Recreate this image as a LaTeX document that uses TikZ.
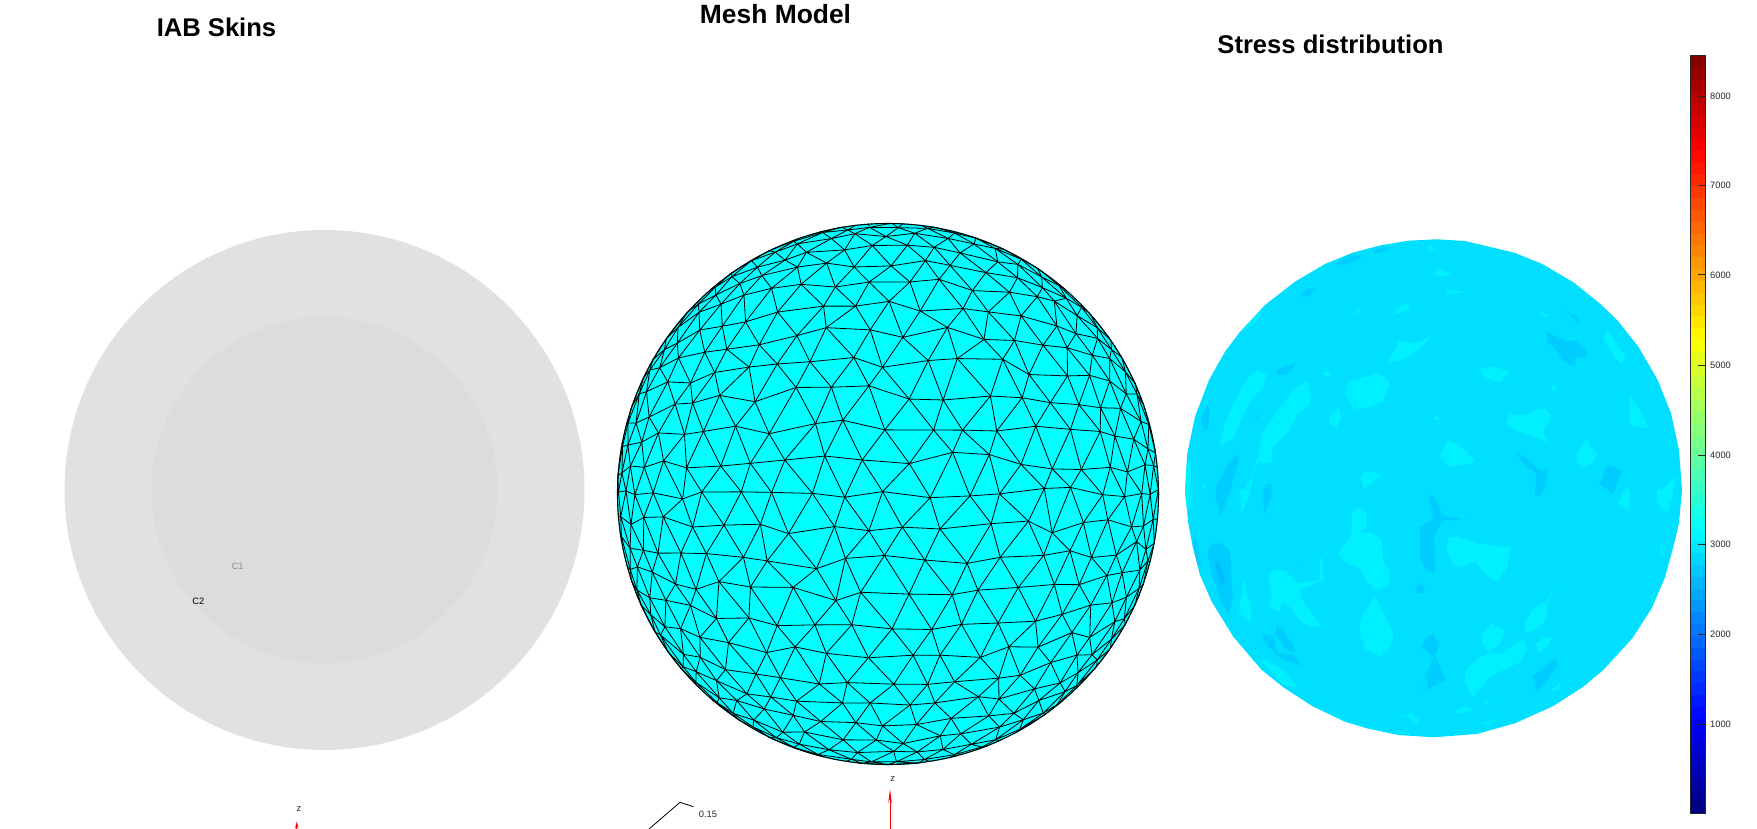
\documentclass[tikz,border=0pt]{standalone}
\usepackage{fontspec}
\setmainfont{Liberation Sans}
\usepackage{xcolor}
\usetikzlibrary{arrows.meta}
\definecolor{skinouter}{HTML}{E1E1E1}
\definecolor{skininner}{HTML}{DCDCDC}
\definecolor{meshfill}{HTML}{00FFFF}
\definecolor{stressbase}{HTML}{00DFFF}
\definecolor{stresshot}{HTML}{00F0FF}
\definecolor{stresscold}{HTML}{00CDFF}
\definecolor{stresscolder}{HTML}{00BBFF}
\definecolor{inkgray}{HTML}{262626}
\tikzset{
	plottitle/.style={font=\fontsize{25.6}{28}\selectfont\bfseries,inner sep=0pt},%
	small/.style={font=\fontsize{9.3}{11}\selectfont,inner sep=0pt,text=inkgray},%
	meshline/.style={black,line width=0.8pt},%
	hot/.style={fill=stresshot},%
	cold/.style={fill=stresscold},%
	colder/.style={fill=stresscolder},%
	zaxis/.style={red,line width=0.8pt,-{Stealth[length=14pt,width=3.5pt]}},%
	barframe/.style={draw=inkgray,line width=1pt},%
}
\def\meshstep{0.148}
\def\hotpatch#1{\fill[hot] plot coordinates {#1} -- cycle;}
\def\coldpatch#1{\fill[cold] plot coordinates {#1} -- cycle;}
\begin{document}
\begin{tikzpicture}[x=1pt,y=-1pt]
	\useasboundingbox (0,0) rectangle (1757,829);
	\fill[white] (0,0) rectangle (1757,829);
	% IAB skins
	\node[plottitle] (titleskins) at (216.5,27) {IAB Skins};
	\fill[skinouter] (324.5,490) circle (260);
	\fill[skininner] (324.5,490) circle (173);
	\node[small,text=black!45] (cone) at (237.7,566.7) {C1};
	\node[small,text=black] (ctwo) at (198.3,601.7) {C2};
	\node[small] (zskins) at (299,809) {z};
	\coordinate (zskinstail) at (296.8,829);
	\coordinate (zskinstip) at (296.8,821.5);
	\draw[red,line width=0.8pt,-{Stealth[length=7pt,width=3.5pt]}] (zskinstail) -- (zskinstip);
	% mesh
	\node[plottitle,font=\fontsize{26.4}{28}\selectfont\bfseries] (titlemesh) at (775.5,14.5) {Mesh Model};
	\pgfmathsetseed{4711}
	\foreach \i in {-14,...,14}{%
		\foreach \j in {-14,...,14}{%
			\pgfmathsetmacro\px{(\i+0.5*\j+0.2*rand)*\meshstep}
			\pgfmathsetmacro\py{(0.866*\j+0.2*rand)*\meshstep}
			\pgfmathsetmacro\rr{veclen(\px,\py)+0.0001}
			\pgfmathsetmacro\ff{\rr<1.5708 ? sin(\rr r)/\rr : 1.02/\rr}
			\coordinate (v\i_\j) at (888+271*\ff*\px,494+271*\ff*\py);
		}%
	}
	\fill[meshfill] (888,494) circle (271);
	\begin{scope}
		\clip (888,494) circle (271);
		\foreach \i in {-13,...,13}{%
			\foreach \j in {-13,...,13}{%
				\pgfmathtruncatemacro\inext{\i+1}
				\pgfmathtruncatemacro\jnext{\j+1}
				\pgfmathtruncatemacro\jprev{\j-1}
				\draw[meshline] (v\i_\j) -- (v\inext_\j) (v\i_\j) -- (v\i_\jnext) (v\i_\j) -- (v\inext_\jprev);
			}%
		}
	\end{scope}
	\draw[black,line width=1.1pt] (888,494) circle (270.5);
	\node[small] (zmesh) at (892.7,778.7) {z};
	\coordinate (zmeshtail) at (890,829);
	\coordinate (zmeshtip) at (890,789);
	\draw[zaxis] (zmeshtail) -- (zmeshtip);
	\coordinate (scalea) at (649,829);
	\coordinate (scaleb) at (680,802.3);
	\coordinate (scalec) at (693.5,806.7);
	\draw[black,line width=0.8pt] (scalea) -- (scaleb) -- (scalec);
	\node[small] (scalelabel) at (708,814.7) {0.15};
	% stress
	\node[plottitle] (titlestress) at (1330.5,44) {Stress distribution};
	\begin{scope}
		\path[clip] (1185,490) -- (1187.3,453.3) -- (1195,416.7) -- (1209,380) -- (1225,351.7) -- (1239.3,332.7) -- (1265,305) -- (1295,281.7) -- (1325,264) -- (1352.7,252.7) -- (1380.7,245.3) -- (1408.3,240.7) -- (1436.7,239.3) -- (1465,241) -- (1514.3,252.7) -- (1542.3,264) -- (1574,282.7) -- (1600.7,304.3) -- (1617.7,320.7) -- (1638.3,346.7) -- (1657.7,380) -- (1671,413.3) -- (1679,450) -- (1682,490) -- (1679,523.3) -- (1673.3,546.7) -- (1665,577.3) -- (1651.7,608.3) -- (1632.3,638.3) -- (1603.3,670) -- (1583.3,686.7) -- (1553.3,706) -- (1515,723.3) -- (1476.7,734) -- (1433.3,737.3) -- (1398.3,735) -- (1366.7,728.3) -- (1345,721.7) -- (1313.3,706.7) -- (1283.3,687.3) -- (1261.7,670) -- (1233.3,636.7) -- (1211.7,601.7) -- (1200,575) -- (1192.7,546.7) -- (1188.3,523.3) -- cycle;
		\fill[stressbase] (1170,230) rectangle (1690,750);
		\begin{scope}[shift={(1170,230)},x=0.3333pt,y=-0.3333pt]
			\hotpatch{(790,130)(810,117)(842,128)(830,138)(810,140)}
			\hotpatch{(826,178)(885,184)(850,192)(832,190)}
			\hotpatch{(772,52)(785,48)(798,57)(780,60)}
			\hotpatch{(665,258)(690,228)(705,218)(720,228)(712,240)}
			\hotpatch{(555,255)(562,237)(575,243)}
			\hotpatch{(648,402)(670,370)(685,333)(735,340)(785,320)(750,355)(725,375)(700,388)}
			\hotpatch{(525,490)(535,455)(590,440)(622,427)(660,455)(640,515)(600,530)(555,538)}
			\hotpatch{(455,430)(468,422)(484,430)(470,442)}
			\hotpatch{(148,650)(165,580)(190,520)(225,455)(262,418)(290,435)(280,470)(235,520)(190,625)}
			\hotpatch{(258,700)(278,610)(325,540)(370,480)(415,452)(423,520)(380,555)(358,605)(305,655)(305,700)(265,698)(225,780)(215,815)(232,815)}
			\hotpatch{(476,565)(507,530)(514,560)(500,592)(480,582)}
			\hotpatch{(790,565)(803,555)(812,575)}
			\hotpatch{(925,418)(965,408)(1018,425)(992,458)(945,445)}
			\hotpatch{(1145,470)(1153,464)(1162,475)(1150,484)}
			\hotpatch{(1008,582)(1018,552)(1070,555)(1100,537)(1128,537)(1143,560)(1118,605)(1135,638)(1100,622)(1040,603)}
			\hotpatch{(810,680)(832,630)(870,647)(913,688)(900,702)(850,710)(830,705)}
			\hotpatch{(1220,670)(1248,628)(1282,675)(1262,705)(1238,712)(1222,695)}
			\hotpatch{(1300,325)(1313,297)(1340,345)(1368,380)(1355,402)(1335,385)}
			\hotpatch{(1380,495)(1415,550)(1437,595)(1380,585)}
			\hotpatch{(572,740)(590,725)(635,733)(580,780)}
			\hotpatch{(1105,240)(1140,258)(1118,260)}
			\hotpatch{(1460,790)(1480,775)(1518,740)(1505,815)(1462,815)}
			\hotpatch{(1350,815)(1375,768)(1380,815)}
			\hotpatch{(50,700)(62,695)(65,815)(45,815)}
			\hotpatch{(95,770)(100,758)(105,775)}
			\hotpatch{(210,310)(285,228)(262,270)}
			\coldpatch{(495,100)(550,75)(577,78)(560,92)(515,105)}
			\coldpatch{(605,60)(655,50)(640,65)(615,70)}
			\coldpatch{(388,200)(410,178)(442,175)(415,197)}
			\coldpatch{(320,435)(325,418)(375,397)(372,412)(345,435)}
			\coldpatch{(92,570)(112,525)(120,535)(113,600)(103,600)}
			\coldpatch{(1130,305)(1185,332)(1218,332)(1250,365)(1250,383)(1215,378)(1218,410)(1180,395)(1160,360)(1132,335)}
			\coldpatch{(1188,243)(1222,262)(1228,280)}
			\coldpatch{(1033,665)(1070,685)(1112,723)(1130,720)(1130,765)(1110,797)(1095,795)(1100,730)(1072,710)}
			\coldpatch{(1312,705)(1357,722)(1330,790)(1290,762)}
			\coldpatch{(137,770)(175,700)(205,670)(205,700)(170,815)(137,815)}
			\coldpatch{(285,765)(305,760)(303,815)(280,815)}
			\coldpatch{(778,790)(800,815)(778,815)}
			\coldpatch{(255,555)(265,565)(255,568)}
		\end{scope}
		\begin{scope}[shift={(1170,490)},x=0.3333pt,y=-0.3333pt]
			\coldpatch{(137,-2)(175,-2)(165,50)(150,78)}
			\coldpatch{(280,-2)(303,-2)(295,45)(283,72)}
			\hotpatch{(210,-2)(232,-2)(225,55)(213,70)}
			\hotpatch{(45,-2)(65,-2)(65,40)(52,70)}
			\hotpatch{(1462,-2)(1505,-2)(1495,65)(1468,55)}
			\hotpatch{(1343,40)(1365,-2)(1380,-2)(1378,65)}
			\coldpatch{(1095,-2)(1120,-2)(1105,15)}
			\coldpatch{(1310,-2)(1335,-2)(1325,12)}
			\hotpatch{(545,75)(547,68)(568,50)(590,68)(590,112)(560,128)(600,128)(635,145)(640,210)(660,248)(655,288)(618,300)(590,275)(575,240)(530,218)(505,192)(545,130)}
			\hotpatch{(830,180)(835,145)(860,140)(925,160)(1022,172)(1012,230)(980,278)(935,240)(915,215)(875,232)(850,222)}
			\hotpatch{(295,275)(300,245)(320,238)(350,245)(380,280)(450,270)(448,205)(458,205)(462,268)(392,300)(395,330)(455,408)(420,410)(390,393)(360,350)(335,337)(330,365)(295,350)(305,310)}
			\hotpatch{(567,410)(580,370)(615,322)(640,365)(672,435)(660,475)(630,500)(585,478)}
			\hotpatch{(207,368)(222,260)(230,310)(243,350)(243,398)}
			\hotpatch{(935,435)(965,400)(1007,422)(992,460)(955,487)(938,460)}
			\hotpatch{(1065,395)(1090,355)(1130,335)(1160,280)(1132,340)(1133,380)(1110,410)(1065,430)}
			\hotpatch{(885,545)(925,505)(955,492)(1000,490)(1057,447)(1072,475)(1053,515)(960,560)(908,622)(885,580)}
			\hotpatch{(1097,462)(1125,440)(1145,442)(1137,465)(1108,490)}
			\hotpatch{(275,515)(285,508)(345,545)(385,595)(340,585)}
			\hotpatch{(855,665)(885,648)(910,660)(860,672)}
			\hotpatch{(938,632)(962,635)(945,645)}
			\hotpatch{(670,672)(715,675)(720,665)(748,690)(738,702)(715,682)}
			\hotpatch{(935,700)(1000,680)(945,705)}
			\hotpatch{(1145,600)(1170,577)(1168,597)(1150,606)}
			\hotpatch{(1470,195)(1475,155)(1482,190)}
			\hotpatch{(1440,325)(1462,290)(1450,330)}
			\hotpatch{(460,630)(490,640)(465,635)}
			\hotpatch{(480,670)(530,690)(500,680)}
			\coldpatch{(750,110)(780,95)(790,90)(778,12)(800,30)(815,75)(885,88)(815,92)(792,145)(797,235)(790,252)(765,235)(750,200)}
			\coldpatch{(113,195)(120,165)(145,158)(180,178)(188,320)(178,378)(150,330)(125,255)}
			\fill[colder] plot coordinates {(138,230)(142,210)(165,265)(153,292)} -- cycle;
			\coldpatch{(735,300)(745,282)(765,290)(760,308)(745,312)}
			\coldpatch{(755,470)(770,440)(790,432)(808,465)(795,497)(808,530)(828,572)(775,595)(768,555)(790,500)}
			\coldpatch{(745,592)(775,597)(770,600)}
			\coldpatch{(275,430)(310,440)(322,490)(370,495)(397,527)(350,515)(320,495)(280,455)}
			\coldpatch{(317,430)(322,405)(340,418)(355,450)(370,458)(372,490)(340,470)}
			\coldpatch{(1087,560)(1155,505)(1165,525)(1115,590)(1095,605)(1098,575)}
			\coldpatch{(68,145)(80,150)(95,240)(80,215)}
			\coldpatch{(387,215)(393,212)(392,220)}
		\end{scope}
	\end{scope}
	% colour bar
	\foreach \k in {0,...,63}{%
		\pgfmathsetmacro\tt{(\k+0.5)/64}
		\pgfmathsetmacro\cr{max(0,min(1,min(4*\tt-1.5,4.5-4*\tt)))}
		\pgfmathsetmacro\cg{max(0,min(1,min(4*\tt-0.5,3.5-4*\tt)))}
		\pgfmathsetmacro\cb{max(0,min(1,min(4*\tt+0.5,2.5-4*\tt)))}
		\definecolor{jetstep}{rgb}{\cr,\cg,\cb}
		\pgfmathsetmacro\ylow{813.3-\k*11.83}
		\pgfmathsetmacro\yhigh{\ylow-12.1}
		\fill[jetstep] (1690.3,\ylow) rectangle (1705.7,\yhigh);
	}
	\draw[barframe] (1690.3,56) rectangle (1705.7,813.3);
	\foreach \val/\ypos in {1000/724.3,2000/634,3000/544.3,4000/455.3,5000/365.3,6000/275,7000/185.3,8000/96.3}{%
		\draw[inkgray,line width=1pt] (1698.3,\ypos) -- (1705.7,\ypos);
		\node[small,anchor=west] (tick\val) at (1710,\ypos) {\val};
	}
\end{tikzpicture}
\end{document}
